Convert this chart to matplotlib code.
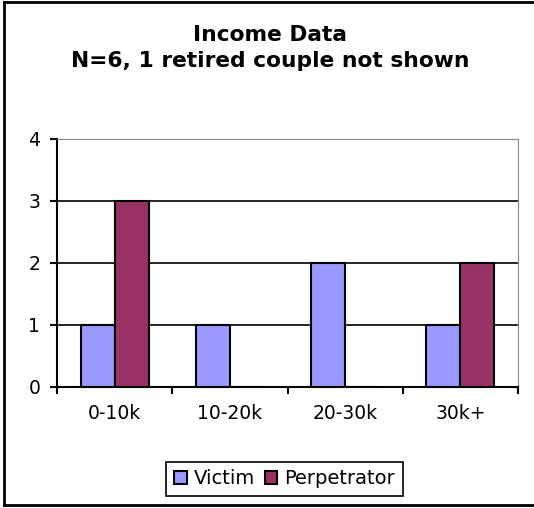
import numpy as np
import matplotlib.pyplot as plt
from matplotlib.lines import Line2D

plt.rcParams['font.family'] = ['DejaVu Sans']

categories = ['0-10k', '10-20k', '20-30k', '30k+']
victim = [1, 1, 2, 1]
perpetrator = [3, 0, 0, 2]

fig = plt.figure(figsize=(5.34, 5.08), dpi=100)
ax = fig.add_axes([57/534, 1-387/508, (518-57)/534, (387-139)/508])

x = np.arange(len(categories))
w = 0.295
ax.bar(x - w/2, victim, w, color='#9999FF', edgecolor='black', linewidth=1.5, label='Victim', zorder=3)
ax.bar(x + w/2, perpetrator, w, color='#993366', edgecolor='black', linewidth=1.5, label='Perpetrator', zorder=3)

ax.set_xlim(-0.5, 3.5)
ax.set_ylim(0, 4)
ax.set_yticks([0, 1, 2, 3, 4])
ax.set_xticks(x)
ax.set_xticklabels(categories)
ax.set_xticks(np.arange(-0.5, 4, 1), minor=True)
ax.tick_params(axis='x', which='major', length=0, pad=12, labelsize=13.5)
ax.tick_params(axis='x', which='minor', length=5, width=1.5, direction='out')
ax.tick_params(axis='y', length=5, width=1.5, direction='out', labelsize=13.5, pad=7)
for yv in [1, 2, 3]:
    ax.axhline(yv, color='black', linewidth=1.2, zorder=1)

ax.spines['left'].set_linewidth(1.5)
ax.spines['bottom'].set_linewidth(1.5)
ax.spines['top'].set_color('#888888')
ax.spines['right'].set_color('#888888')

fig.text(270/534, 1-35/508, 'Income Data', ha='center', va='center', fontsize=15.7, fontweight='bold')
fig.text(270/534, 1-61/508, 'N=6, 1 retired couple not shown', ha='center', va='center', fontsize=15.7, fontweight='bold')

leg = ax.legend(loc='center', bbox_to_anchor=(284.5/534, 1-479/508), bbox_transform=fig.transFigure,
                ncol=2, fancybox=False, edgecolor='black', framealpha=1, fontsize=14,
                handlelength=0.65, handleheight=0.65, handletextpad=0.35, columnspacing=0.5,
                borderpad=0.4, borderaxespad=0)
leg.get_frame().set_linewidth(1.2)

# outer chart border (left, top, bottom visible)
fig.add_artist(Line2D([4/534, 4/534], [1-505/508, 1-1.5/508], transform=fig.transFigure, color='black', linewidth=2))
fig.add_artist(Line2D([4/534, 1], [1-1.5/508, 1-1.5/508], transform=fig.transFigure, color='black', linewidth=2))
fig.add_artist(Line2D([4/534, 1], [1-505/508, 1-505/508], transform=fig.transFigure, color='black', linewidth=2))

fig.savefig('out.png', dpi=100)
